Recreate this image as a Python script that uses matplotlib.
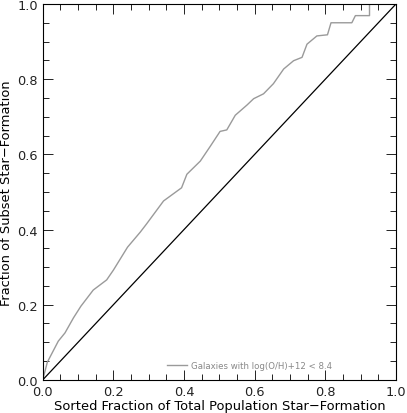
import matplotlib
matplotlib.use("Agg")
import matplotlib.pyplot as plt
from matplotlib.ticker import MultipleLocator

# cumulative fraction of subset star formation vs total population
frac_total = [0.0, 0.013, 0.044, 0.063, 0.087, 0.108, 0.143, 0.181, 0.2, 0.24,
              0.276, 0.294, 0.342, 0.393, 0.408, 0.446, 0.474, 0.502, 0.521,
              0.545, 0.578, 0.597, 0.625, 0.653, 0.682, 0.71, 0.734, 0.748,
              0.776, 0.806, 0.816, 0.875, 0.885, 0.925, 0.925, 1.0]
frac_subset = [0.0, 0.047, 0.103, 0.125, 0.165, 0.196, 0.239, 0.266, 0.292, 0.353,
               0.393, 0.415, 0.476, 0.511, 0.547, 0.582, 0.621, 0.661, 0.665,
               0.704, 0.731, 0.748, 0.761, 0.788, 0.827, 0.849, 0.858, 0.893,
               0.915, 0.918, 0.95, 0.95, 0.969, 0.969, 1.0, 1.0]
one_to_one = [0.0, 1.0]
label = "Galaxies with log(O/H)+12 < 8.4"

plt.rcParams['font.family'] = ['DejaVu Sans']

fig = plt.figure(figsize=(4.07, 4.14), dpi=100)
ax = fig.add_axes([0.105, 0.08, 0.868, 0.908])

ax.plot(frac_total, frac_subset, color='#9a9a9a', lw=1.0, label=label)
ax.plot(one_to_one, one_to_one, color='black', lw=0.9)

ax.set_xlim(0, 1)
ax.set_ylim(0, 1)
ax.xaxis.set_major_locator(MultipleLocator(0.2))
ax.xaxis.set_minor_locator(MultipleLocator(0.05))
ax.yaxis.set_major_locator(MultipleLocator(0.2))
ax.yaxis.set_minor_locator(MultipleLocator(0.05))
ax.tick_params(which='both', direction='in', top=True, right=True, width=0.7,
               labelsize=9.3, colors='#222222')
ax.tick_params(which='major', length=7)
ax.tick_params(which='minor', length=4)
ax.xaxis.set_major_formatter(plt.FormatStrFormatter('%.1f'))
ax.yaxis.set_major_formatter(plt.FormatStrFormatter('%.1f'))
for s in ax.spines.values():
    s.set_linewidth(0.8)

ax.set_xlabel('Sorted Fraction of Total Population Star\u2212Formation', fontsize=9.4, labelpad=1)
ax.set_ylabel('Fraction of Subset Star\u2212Formation', fontsize=9.4, labelpad=3)

ax.legend(loc='lower left', bbox_to_anchor=(0.33, 0.005), frameon=False,
          fontsize=6.2, handlelength=2.3, handletextpad=0.5, labelcolor='#888888')

fig.savefig('out.png', dpi=100)
